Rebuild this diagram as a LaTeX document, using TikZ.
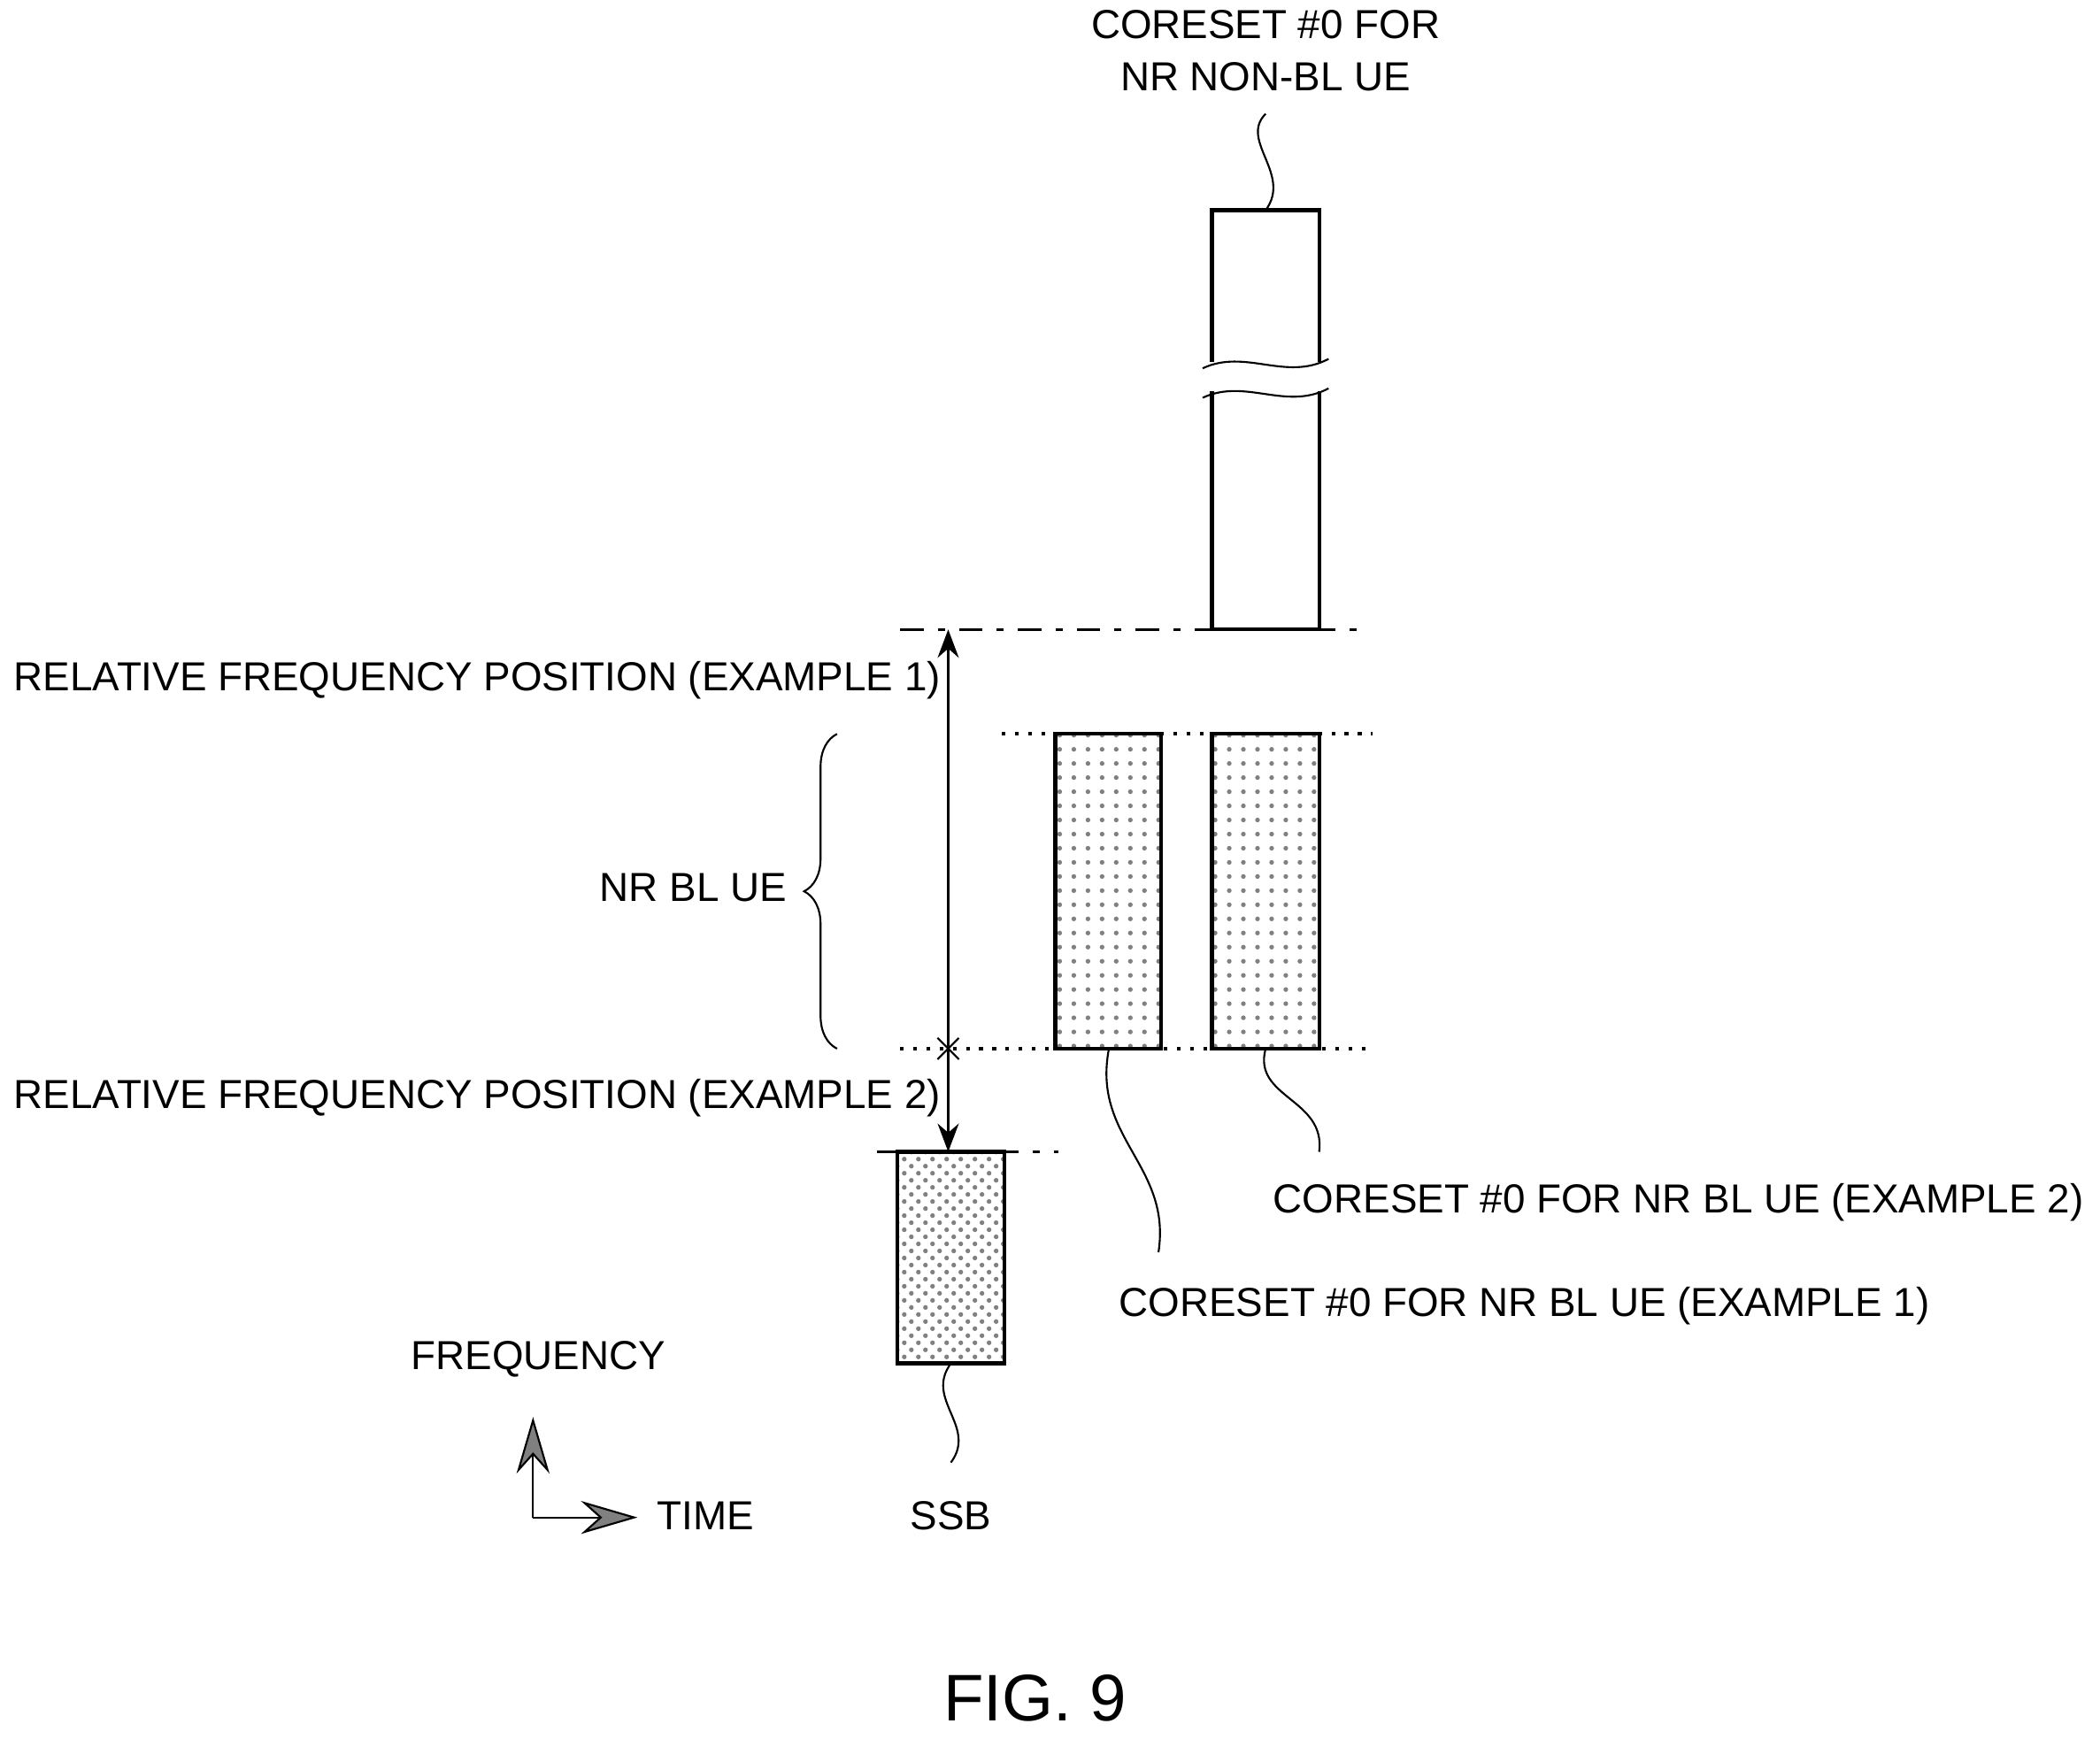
\documentclass[tikz,border=0pt]{standalone}
\usepackage{fontspec}
\setmainfont{Liberation Sans}
\usetikzlibrary{patterns,decorations.pathreplacing,arrows.meta}
\begin{document}
\begin{tikzpicture}[x=0.01cm,y=-0.01cm,
    lbl/.style={font=\fontsize{8.6}{11}\selectfont, inner sep=0pt},
    blk/.style={draw=black, thick},
    guide/.style={semithick, dash pattern=on 5pt off 3pt on 1.5pt off 3pt},
    dotguide/.style={thick, dotted},
    squiggle/.style={thin}]
    \useasboundingbox (0,0) rectangle (1568,1298);
    %top coreset (non-BL)
    \node[lbl, align=center] (nonbl) at (945,38) {CORESET \#0 FOR\\NR NON-BL UE};
    \coordinate (nbtop) at (945,157);
    \draw[squiggle] (945,85) .. controls (925,105) and (965,130) .. (nbtop);
    \draw[blk] (905,270) -- (905,157) -- (985,157) -- (985,270);
    \draw[blk] (905,292) -- (905,470) -- (985,470) -- (985,292);
    \draw[thin] (898,275) .. controls (930,260) and (960,285) .. (992,268);
    \draw[thin] (898,297) .. controls (930,282) and (960,307) .. (992,290);
    \draw[guide] (672,470) -- (1020,470);
    %BL coresets
    \draw[dotguide] (748,548) -- (1025,548);
    \draw[blk, pattern=dots, pattern color=gray] (788,548) rectangle (867,783);
    \draw[blk, pattern=dots, pattern color=gray] (905,548) rectangle (985,783);
    \draw[dotguide] (672,783) -- (1025,783);
    %SSB
    \draw[guide] (655,860) -- (790,860);
    \draw[blk, pattern=crosshatch dots, pattern color=gray] (670,860) rectangle (750,1018);
    \draw[squiggle] (710,1018) .. controls (690,1045) and (730,1065) .. (710,1092);
    \node[lbl] (ssb) at (710,1132) {SSB};
    %relative positions
    \coordinate (top1) at (708,470);
    \coordinate (mid) at (708,783);
    \coordinate (bot2) at (708,860);
    \draw[thin, -{Stealth[length=6pt]}] (mid) -- (top1);
    \draw[thin, -{Stealth[length=6pt]}] (mid) -- (bot2);
    \draw[thin] (700,775) -- (716,791) (700,791) -- (716,775);
    \node[lbl, anchor=east] (rel1) at (703,508) {RELATIVE FREQUENCY POSITION (EXAMPLE 1)};
    \node[lbl, anchor=east] (rel2) at (703,820) {RELATIVE FREQUENCY POSITION (EXAMPLE 2)};
    \draw[thin, decorate, decoration={brace, amplitude=7pt}] (625,783) -- (625,548);
    \node[lbl, anchor=east] (blue) at (588,663) {NR BL UE};
    %coreset labels
    \node[lbl, anchor=west] (ex2) at (950,898) {CORESET \#0 FOR NR BL UE (EXAMPLE 2)};
    \node[lbl, anchor=west] (ex1) at (835,975) {CORESET \#0 FOR NR BL UE (EXAMPLE 1)};
    \draw[squiggle] (945,783) .. controls (935,820) and (990,820) .. (985,860);
    \draw[squiggle] (828,783) .. controls (815,850) and (875,870) .. (865,935);
    %axes
    \coordinate (o) at (398,1133);
    \draw[thin, -{Stealth[length=12pt,width=7pt,fill=gray]}] (o) -- (398,1058);
    \draw[thin, -{Stealth[length=12pt,width=7pt,fill=gray]}] (o) -- (476,1133);
    \node[lbl] (freq) at (402,1015) {FREQUENCY};
    \node[lbl, anchor=west] (time) at (490,1132) {TIME};
    \node[font=\fontsize{14}{16}\selectfont] (fig) at (773,1268) {FIG. 9};
\end{tikzpicture}
\end{document}
